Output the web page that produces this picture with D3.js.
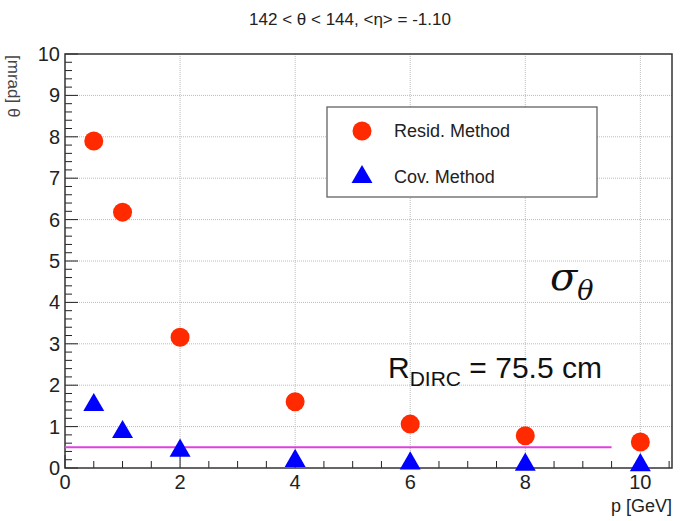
<!DOCTYPE html>
<html>
<head>
<meta charset="utf-8">
<script src="https://cdn.jsdelivr.net/npm/d3@7"></script>
<style>
  body { margin: 0; background: #fff; }
  svg { font-family: "Liberation Sans", Arial, sans-serif; }
</style>
</head>
<body>
<div class="chart"></div>
<script>
// momentum points
var momenta = [0.5, 1, 2, 4, 6, 8, 10];
var residValues = [7.9, 6.18, 3.16, 1.6, 1.06, 0.78, 0.63];
var covValues = [1.52, 0.87, 0.42, 0.17, 0.11, 0.08, 0.07];
var xTicks = [0, 2, 4, 6, 8, 10];
var yTicks = [0, 1, 2, 3, 4, 5, 6, 7, 8, 9, 10];
var refLevel = 0.5, refEnd = 9.5;

var W = 695, H = 521;
var margin = { top: 54, right: 23, bottom: 53, left: 65 },
    width = W - margin.left - margin.right,
    height = H - margin.top - margin.bottom;

var x = d3.scaleLinear().domain([0, 10.55]).range([0, width]);
var y = d3.scaleLinear().domain([0, 10]).range([height, 0]);

var svg = d3.select('.chart').append("svg")
    .attr("width", W)
    .attr("height", H);

svg.append("text")
    .attr("x", 350).attr("y", 25)
    .attr("text-anchor", "middle")
    .attr("font-size", 17)
    .attr("fill", "#222")
    .text("142 < \u03b8 < 144, <\u03b7> = -1.10");

var g = svg.append("g")
    .attr("transform", "translate(" + margin.left + "," + margin.top + ")");

// grid
g.selectAll(".gx").data(xTicks.slice(1)).enter().append("line")
    .attr("x1", function (d) { return x(d); }).attr("x2", function (d) { return x(d); })
    .attr("y1", 0).attr("y2", height)
    .attr("stroke", "#bbb").attr("stroke-dasharray", "1,1");
g.selectAll(".gy").data(yTicks.slice(1, -1)).enter().append("line")
    .attr("y1", function (d) { return y(d); }).attr("y2", function (d) { return y(d); })
    .attr("x1", 0).attr("x2", width)
    .attr("stroke", "#bbb").attr("stroke-dasharray", "1,1");

// inward ticks like ROOT
var xMinor = d3.range(0, 10.51, 0.5);
g.selectAll(".tx").data(xMinor).enter().append("line")
    .attr("x1", function (d) { return x(d); }).attr("x2", function (d) { return x(d); })
    .attr("y1", height)
    .attr("y2", function (d) { return height - (d % 2 === 0 ? 13 : 7); })
    .attr("stroke", "#222");
var yMinor = d3.range(0, 10.01, 0.2);
g.selectAll(".ty").data(yMinor).enter().append("line")
    .attr("y1", function (d) { return y(d); }).attr("y2", function (d) { return y(d); })
    .attr("x1", 0)
    .attr("x2", function (d) { return Math.abs(d - Math.round(d)) < 0.01 ? 13 : 7; })
    .attr("stroke", "#222");

// tick labels
g.selectAll(".lx").data(xTicks).enter().append("text")
    .attr("x", function (d) { return x(d); })
    .attr("y", height + 21)
    .attr("text-anchor", "middle")
    .attr("font-size", 20)
    .attr("fill", "#222")
    .text(function (d) { return d; });
g.selectAll(".ly").data(yTicks).enter().append("text")
    .attr("x", -5)
    .attr("y", function (d) { return y(d) + 7; })
    .attr("text-anchor", "end")
    .attr("font-size", 20)
    .attr("fill", "#222")
    .text(function (d) { return d; });

// frame
g.append("rect")
    .attr("width", width).attr("height", height)
    .attr("fill", "none").attr("stroke", "#333").attr("stroke-width", 1.5);

svg.append("text")
    .attr("x", W - margin.right).attr("y", 512)
    .attr("text-anchor", "end")
    .attr("font-size", 18)
    .attr("fill", "#222")
    .text("p [GeV]");

// y title, mostly cut off on the left
svg.append("text")
    .attr("transform", "translate(8,55) rotate(90)")
    .attr("font-size", 17)
    .attr("fill", "#444")
    .text("[mrad] \u03b8");

// reference line
g.append("line")
    .attr("x1", x(0)).attr("x2", x(refEnd))
    .attr("y1", y(refLevel)).attr("y2", y(refLevel))
    .attr("stroke", "#e040e0").attr("stroke-width", 2);

// markers
var resid = momenta.map(function (p, i) { return { p: p, v: residValues[i] }; });
var cov = momenta.map(function (p, i) { return { p: p, v: covValues[i] }; });

g.selectAll(".res").data(resid).enter().append("circle")
    .attr("cx", function (d) { return x(d.p); })
    .attr("cy", function (d) { return y(d.v); })
    .attr("r", 9.5)
    .attr("fill", "#ff2a00");

var tri = d3.symbol().type(d3.symbolTriangle).size(190);
g.selectAll(".cov").data(cov).enter().append("path")
    .attr("d", tri)
    .attr("transform", function (d) { return "translate(" + x(d.p) + "," + y(d.v) + ")"; })
    .attr("fill", "#0000ff");

// legend
var leg = svg.append("g").attr("transform", "translate(327,107)");
leg.append("rect")
    .attr("width", 270).attr("height", 90)
    .attr("fill", "#fff").attr("stroke", "#555").attr("stroke-width", 1.2);
leg.append("circle").attr("cx", 35).attr("cy", 24).attr("r", 9.5).attr("fill", "#ff2a00");
leg.append("path").attr("d", tri).attr("transform", "translate(35,70)").attr("fill", "#0000ff");
leg.append("text").attr("x", 67).attr("y", 30).attr("font-size", 18).attr("fill", "#222").text("Resid. Method");
leg.append("text").attr("x", 67).attr("y", 76).attr("font-size", 18).attr("fill", "#222").text("Cov. Method");

// annotations
var sig = svg.append("text")
    .attr("x", 550).attr("y", 290)
    .attr("font-family", "DejaVu Serif, serif")
    .attr("font-style", "italic")
    .attr("fill", "#111");
sig.append("tspan").attr("font-size", 40).text("\u03c3");
sig.append("tspan").attr("font-size", 27).attr("dy", 10).text("\u03b8");

var rd = svg.append("text")
    .attr("x", 388).attr("y", 378)
    .attr("fill", "#111");
rd.append("tspan").attr("font-size", 30).text("R");
rd.append("tspan").attr("font-size", 21).attr("dy", 8).text("DIRC");
rd.append("tspan").attr("font-size", 30).attr("dy", -8).text(" = 75.5 cm");
</script>
</body>
</html>
